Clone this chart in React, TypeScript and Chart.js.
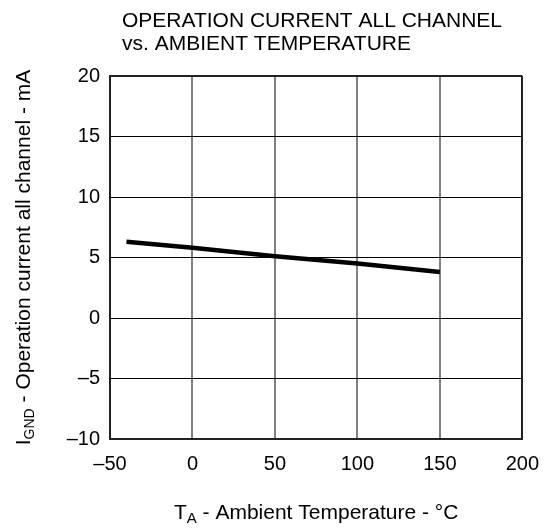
import React, { useEffect, useRef } from "react";
import { Chart, registerables } from "chart.js";

Chart.register(...registerables);

// ---- data ----
const temperatures = [-40, 0, 50, 100, 150];
const currentMA = [6.3, 5.8, 5.1, 4.5, 3.8];
const xTicks = [-50, 0, 50, 100, 150, 200];
const yTicks = [-10, -5, 0, 5, 10, 15, 20];
const titleLines = ["OPERATION CURRENT ALL CHANNEL", "vs. AMBIENT TEMPERATURE"];

const FONT = '"Liberation Sans", Arial, Helvetica, sans-serif';

const fmt = (v: number) => (v < 0 ? "\u2013" + Math.abs(v) : String(v));

function drawSegments(
  ctx: CanvasRenderingContext2D,
  segs: { t: string; size: number; dy: number }[],
  x: number,
  y: number,
  center: boolean
) {
  let total = 0;
  for (const s of segs) {
    ctx.font = `${s.size}px ${FONT}`;
    total += ctx.measureText(s.t).width;
  }
  let cx = center ? x - total / 2 : x;
  for (const s of segs) {
    ctx.font = `${s.size}px ${FONT}`;
    ctx.fillText(s.t, cx, y + s.dy);
    cx += ctx.measureText(s.t).width;
  }
}

const textPlugin = {
  id: "texts",
  afterDraw(chart: any) {
    const ctx: CanvasRenderingContext2D = chart.ctx;
    const area = chart.chartArea;
    ctx.save();
    ctx.fillStyle = "#000";
    ctx.textBaseline = "alphabetic";
    ctx.textAlign = "left";
    // title
    ctx.font = `21px ${FONT}`;
    ctx.fillText(titleLines[0], 122, 27);
    ctx.fillText(titleLines[1], 122, 50);
    // x title
    drawSegments(
      ctx,
      [
        { t: "T", size: 21, dy: 0 },
        { t: "A", size: 15, dy: 4 },
        { t: " - Ambient Temperature - \u00B0C", size: 21, dy: 0 },
      ],
      (area.left + area.right) / 2,
      519,
      true
    );
    // y title
    ctx.translate(30, (area.top + area.bottom) / 2);
    ctx.rotate(-Math.PI / 2);
    drawSegments(
      ctx,
      [
        { t: "I", size: 21, dy: 0 },
        { t: "GND", size: 14, dy: 4 },
        { t: " - Operation current all channel - mA", size: 21, dy: 0 },
      ],
      0,
      0,
      true
    );
    ctx.restore();
  },
};

export default function App() {
  const ref = useRef<HTMLCanvasElement | null>(null);

  useEffect(() => {
    if (!ref.current) return;
    const chart = new Chart(ref.current, {
      type: "line",
      data: {
        datasets: [
          {
            data: temperatures.map((t, i) => ({ x: t, y: currentMA[i] })),
            borderColor: "#000",
            borderWidth: 4.5,
            pointRadius: 0,
            tension: 0,
            fill: false,
          },
        ],
      },
      options: {
        responsive: false,
        animation: false,
        layout: { padding: { top: 76, right: 27, left: 0, bottom: 0 } },
        plugins: {
          legend: { display: false },
          title: { display: false },
          tooltip: { enabled: false },
        },
        scales: {
          x: {
            type: "linear",
            min: -50,
            max: 200,
            afterBuildTicks: (s: any) => {
              s.ticks = xTicks.map((v) => ({ value: v }));
            },
            afterFit: (s: any) => {
              s.height = 90;
            },
            ticks: {
              callback: (v: any) => fmt(Number(v)),
              color: "#000",
              font: { family: FONT, size: 20 },
              padding: 13,
              maxRotation: 0,
              autoSkip: false,
            },
            grid: {
              drawTicks: false,
              color: (c: any) => (c.tick && c.tick.value === 200 ? "#222" : "#808080"),
              lineWidth: 2,
            },
            border: { display: true, color: "#222", width: 2 },
          },
          y: {
            type: "linear",
            min: -10,
            max: 20,
            afterBuildTicks: (s: any) => {
              s.ticks = yTicks.map((v) => ({ value: v }));
            },
            afterFit: (s: any) => {
              s.width = 110;
            },
            ticks: {
              callback: (v: any) => fmt(Number(v)),
              color: "#000",
              font: { family: FONT, size: 20 },
              padding: 10,
              autoSkip: false,
            },
            grid: {
              drawTicks: false,
              color: (c: any) => (c.tick && c.tick.value === 20 ? "#222" : "#000"),
              lineWidth: (c: any) => (c.tick && c.tick.value === 20 ? 2 : 1),
            },
            border: { display: true, color: "#222", width: 2 },
          },
        },
      } as any,
      plugins: [textPlugin],
    });
    return () => chart.destroy();
  }, []);

  return (
    <div style={{ position: "absolute", left: 0, top: 0, width: 552, height: 529 }}>
      <canvas ref={ref} width={552} height={529} style={{ display: "block" }} />
    </div>
  );
}
